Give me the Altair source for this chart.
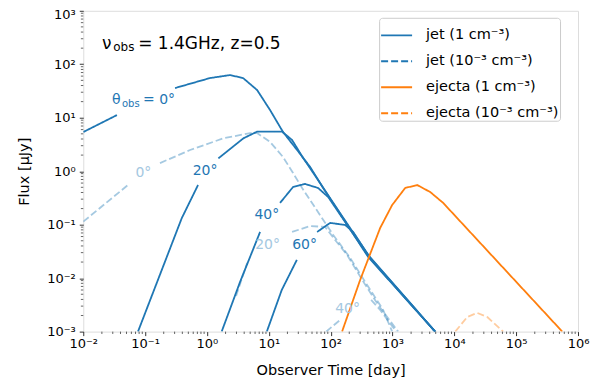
import altair as alt
import pandas as pd

# ---- data (t in days, flux in microJy); inner lists are visible segments
series_names = ["jet (1 cm⁻³)", "jet (10⁻³ cm⁻³)", "ejecta (1 cm⁻³)", "ejecta (10⁻³ cm⁻³)"]
series_alpha = [1.0, 0.4, 1.0, 0.4]

jet1_th0_t = [[0.01, 0.035], [0.305, 1.12, 2.37, 3.84, 6.47, 10.5, 17.0, 28.7, 46.6, 75.7, 405, 4900]]
jet1_th0_f = [[5.4, 11.2], [35.9, 55.2, 62.8, 55.2, 33.0, 13.9, 5.4, 2.49, 1.20, 0.485, 0.0272, 0.001]]
jet1_th20_t = [[0.0767, 0.391, 0.718], [1.53, 3.88, 6.47, 16.4, 23.8, 35.9, 67.6, 405, 4900]]
jet1_th20_f = [[0.001, 0.132, 0.552], [1.74, 4.12, 5.5, 5.5, 3.83, 1.77, 0.601, 0.0249, 0.001]]
jet1_th40_t = [[1.73, 3.43, 7.23], [15.2, 24.7, 38.7, 62.8, 91.2, 405, 4900]]
jet1_th40_f = [[0.001, 0.0085, 0.0731], [0.255, 0.507, 0.577, 0.485, 0.33, 0.026, 0.001]]
jet1_th60_t = [[9.29, 16.2, 28.4], [60.5, 98.2, 172, 231, 436, 4900]]
jet1_th60_f = [[0.001, 0.00601, 0.0219], [0.0731, 0.108, 0.0987, 0.0731, 0.0238, 0.001]]

jet2_th0_t = [[0.01, 0.0528], [0.174, 0.533, 1.84, 4.98, 6.47, 10.5, 17.0, 24.7, 34.6, 110, 207, 389, 706, 988]]
jet2_th0_f = [[0.114, 0.552], [1.42, 2.49, 4.12, 5.17, 5.17, 3.52, 1.84, 0.925, 0.485, 0.0643, 0.0239, 0.00746, 0.00255, 0.001]]
jet2_th20_t = [[2.96, 4.46], [23.8, 46.6, 81.5, 118, 185, 324, 587, 1236]]
jet2_th20_f = [[0.00465, 0.0192], [0.0731, 0.0946, 0.0906, 0.0518, 0.0272, 0.00925, 0.00316, 0.001]]
jet2_th40_t = [[84.5, 143], [452, 632, 1148]]
jet2_th40_f = [[0.001, 0.00166], [0.00392, 0.00255, 0.001]]

ej1_t = [[153, 300, 632, 988, 1603, 2506, 4074, 6607, 5.57e5]]
ej1_f = [[0.001, 0.00925, 0.0867, 0.233, 0.485, 0.552, 0.408, 0.255, 0.001]]
ej2_t = [[10350, 16180, 23500, 34100, 61800]]
ej2_f = [[0.001, 0.00188, 0.00224, 0.00188, 0.001]]

# curve labels
solid_label_text = ["20°", "40°", "60°"]
solid_label_t = [0.931, 9.29, 37.9]
solid_label_f = [1.05, 0.157, 0.0432]
dashed_label_text = ["0°", "20°", "40°"]
dashed_label_t = [0.0936, 9.57, 188]
dashed_label_f = [0.946, 0.0432, 0.00274]

x_ticks = [1e-2, 1e-1, 1e0, 1e1, 1e2, 1e3, 1e4, 1e5, 1e6]
y_ticks = [1e-3, 1e-2, 1e-1, 1e0, 1e1, 1e2, 1e3]
x_minor = [m * 10.0 ** k for k in range(-2, 6) for m in range(2, 10)]
y_minor = [m * 10.0 ** k for k in range(-3, 3) for m in range(2, 10)]

BLUE = "#1f77b4"
ORANGE = "#ff7f0e"
LIGHTBLUE = "#a5c8e1"
FONT = "DejaVu Sans"

curves = [
    (0, "0", jet1_th0_t, jet1_th0_f),
    (0, "20", jet1_th20_t, jet1_th20_f),
    (0, "40", jet1_th40_t, jet1_th40_f),
    (0, "60", jet1_th60_t, jet1_th60_f),
    (1, "0", jet2_th0_t, jet2_th0_f),
    (1, "20", jet2_th20_t, jet2_th20_f),
    (1, "40", jet2_th40_t, jet2_th40_f),
    (2, "e", ej1_t, ej1_f),
    (3, "e", ej2_t, ej2_f),
]
rows = []
for si, th, ts, fs in curves:
    s = series_names[si]
    for k, (tt, ff) in enumerate(zip(ts, fs)):
        for i, (a, b) in enumerate(zip(tt, ff)):
            rows.append({"series": s, "alpha": series_alpha[si], "seg": f"{s}|{th}|{k}", "t": a, "f": b, "i": i})
df = pd.DataFrame(rows)

xscale = alt.Scale(type="log", domain=[1e-2, 1e6], nice=False)
yscale = alt.Scale(type="log", domain=[1e-3, 1e3], nice=False)

W, H = 495, 321

xaxis = alt.Axis(
    values=x_ticks,
    labelExpr="'10' + ['⁻²','⁻¹','⁰','¹','²','³','⁴','⁵','⁶'][round(log(datum.value)/LN10)+2]",
    title="Observer Time [day]", grid=False, domain=False,
    tickSize=4, tickWidth=0.8, tickColor="black",
    labelFontSize=13, labelFont=FONT, labelColor="black", labelPadding=2, labelFlush=False,
    labelOverlap=False,
    titleFontSize=14.5, titleFont=FONT, titleFontWeight="normal", titleColor="black",
    titleX=W / 2, titleY=39, titleAlign="center", titleBaseline="middle",
)
yaxis = alt.Axis(
    values=y_ticks,
    labelExpr="'10' + ['⁻³','⁻²','⁻¹','⁰','¹','²','³'][round(log(datum.value)/LN10)+3]",
    title="Flux [μJy]", grid=False, domain=False,
    tickSize=4, tickWidth=0.8, tickColor="black",
    labelFontSize=13, labelFont=FONT, labelColor="black", labelPadding=4, labelFlush=False,
    labelOffset={"condition": {"test": "datum.value >= 999", "value": 4}, "value": 0},
    labelOverlap=False,
    titleFontSize=14.5, titleFont=FONT, titleFontWeight="normal", titleColor="black",
    titleX=-59, titleY=H / 2, titleAngle=270, titleAlign="center", titleBaseline="middle",
)

legend = alt.Legend(
    title=None, orient="none", legendX=296, legendY=7,
    symbolType="stroke", symbolSize=961, symbolStrokeWidth=1.8,
    labelFontSize=14.5, labelFont=FONT, labelColor="black", labelOffset=13,
    padding=1, rowPadding=3, strokeColor="#cccccc", fillColor="white",
    cornerRadius=3, labelLimit=300,
)

lines = alt.Chart(df).mark_line(strokeWidth=1.8, strokeJoin="round", clip=True).encode(
    x=alt.X("t:Q", scale=xscale, axis=xaxis),
    y=alt.Y("f:Q", scale=yscale, axis=yaxis),
    color=alt.Color("series:N", scale=alt.Scale(domain=series_names, range=[BLUE, BLUE, ORANGE, ORANGE]), legend=legend),
    strokeDash=alt.StrokeDash("series:N", scale=alt.Scale(domain=series_names, range=[[1, 0], [7, 3], [1, 0], [7, 3]]), legend=legend),
    opacity=alt.Opacity("alpha:Q", scale=None),
    detail="seg:N",
    order="i:Q",
)

minor_x = alt.Chart(pd.DataFrame({"v": x_minor})).mark_rule(color="black", strokeWidth=0.6).encode(
    x=alt.X("v:Q", scale=xscale), y=alt.value(H), y2=alt.value(H + 2.4)
)
minor_y = alt.Chart(pd.DataFrame({"v": y_minor})).mark_rule(color="black", strokeWidth=0.6).encode(
    y=alt.Y("v:Q", scale=yscale), x=alt.value(0), x2=alt.value(-2.4)
)

solid_labels = alt.Chart(pd.DataFrame({"text": solid_label_text, "t": solid_label_t, "f": solid_label_f})).mark_text(
    fontSize=14, font=FONT, dy=1, color=BLUE).encode(
    x=alt.X("t:Q", scale=xscale), y=alt.Y("f:Q", scale=yscale), text="text:N")
dashed_labels = alt.Chart(pd.DataFrame({"text": dashed_label_text, "t": dashed_label_t, "f": dashed_label_f})).mark_text(
    fontSize=14, font=FONT, dy=1, color=LIGHTBLUE).encode(
    x=alt.X("t:Q", scale=xscale), y=alt.Y("f:Q", scale=yscale), text="text:N")

# theta_obs = 0 label (main text + subscript)
th_df = pd.DataFrame({"t": [0.02914], "f": [17.8]})
th_main = alt.Chart(th_df).mark_text(text="θ", fontSize=14, font=FONT, color=BLUE, align="left", baseline="alphabetic").encode(
    x=alt.X("t:Q", scale=xscale), y=alt.Y("f:Q", scale=yscale))
th_sub = alt.Chart(th_df).mark_text(text="obs", fontSize=10, font=FONT, color=BLUE, align="left", baseline="alphabetic", dx=10, dy=2.4).encode(
    x=alt.X("t:Q", scale=xscale), y=alt.Y("f:Q", scale=yscale))
th_rest = alt.Chart(th_df).mark_text(text="= 0°", fontSize=14, font=FONT, color=BLUE, align="left", baseline="alphabetic", dx=31).encode(
    x=alt.X("t:Q", scale=xscale), y=alt.Y("f:Q", scale=yscale))

# nu_obs annotation in axes-pixel position
one = pd.DataFrame({"a": [0]})
nu_main = alt.Chart(one).mark_text(text="ν", fontSize=17, font=FONT, color="black", align="left", baseline="alphabetic").encode(
    x=alt.value(18.7), y=alt.value(38.6))
nu_sub = alt.Chart(one).mark_text(text="obs", fontSize=12, font=FONT, color="black", align="left", baseline="alphabetic").encode(
    x=alt.value(30), y=alt.value(40.5))
nu_rest = alt.Chart(one).mark_text(text="= 1.4GHz, z=0.5", fontSize=17, font=FONT, color="black", align="left", baseline="alphabetic").encode(
    x=alt.value(55), y=alt.value(38.6))

chart = alt.layer(
    lines, minor_x, minor_y, solid_labels, dashed_labels, th_main, th_sub, th_rest, nu_main, nu_sub, nu_rest
).properties(
    width=W, height=H,
    autosize=alt.AutoSizeParams(type="none"),
    padding={"left": 75.3, "top": 2.7, "right": 15, "bottom": 50},
).configure_view(
    stroke="#222222", strokeWidth=1.1
).configure(
    font=FONT, background="white"
)

chart.save("out.html", embed_options={"renderer": "svg", "actions": False})
